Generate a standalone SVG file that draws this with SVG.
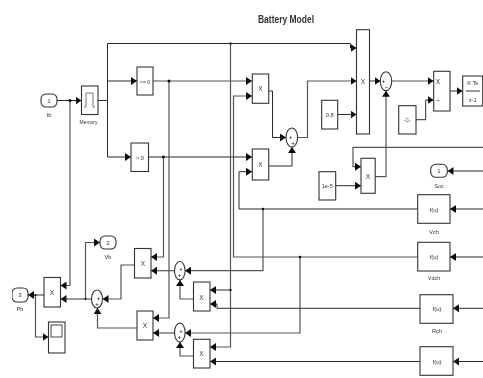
<svg xmlns="http://www.w3.org/2000/svg" width="483" height="378" viewBox="0 0 483 378">
<style>
text{font-family:"Liberation Sans",Arial,sans-serif;fill:#333;text-anchor:middle}
.l{font-size:6px}
.t{font-size:6.5px}
.s{font-size:6px;font-weight:bold}
.b{fill:#fff;stroke:#333;stroke-width:1.1}
.c path{fill:none;stroke:#2a2a2a;stroke-width:1}
.g{stroke:#555!important;stroke-width:1.2!important}
.a{marker-end:url(#ah)}
.j{fill:#111;stroke:none}
</style>
<defs>
<marker id="ah" markerUnits="userSpaceOnUse" markerWidth="6" markerHeight="8" viewBox="0 0 6 8" refX="6" refY="4" orient="auto"><path d="M0 0L6 4L0 8z" fill="#111"/></marker>
<filter id="soft" x="0" y="0" width="100%" height="100%"><feGaussianBlur stdDeviation="0.35"/></filter>
</defs>
<g filter="url(#soft)">
<text id="title" x="286" y="22.5" font-size="10" font-weight="bold" textLength="56" lengthAdjust="spacingAndGlyphs">Battery Model</text>
<g id="connectors" class="c">
<path class="a" d="M57 100.5H81.5"/>
<path class="a g" d="M70 100.5V285.5H60.5"/>
<path class="a" d="M98 100.5H107.5V81H137"/>
<path class="a" d="M107.5 81V43.5H350.5V48H356.5"/>
<path class="a" d="M107.5 100.5V157H131"/>
<path class="a g" d="M153 81H252"/>
<path class="a" d="M148.5 157H252"/>
<path class="a g" d="M169 81V318H153"/>
<path class="a g" d="M163.5 157V257H151"/>
<path class="a g" d="M230.5 43.5V347H210"/>
<path class="a" d="M230.5 290H210"/>
<path class="a" d="M268.5 91H272.5V137.5H286"/>
<path class="a" d="M268.5 166H292V147"/>
<path class="a g" d="M297.5 137.5H307.5V81H356.5"/>
<path class="a" d="M337.5 114.5H356.5"/>
<path class="a" d="M369.5 81H380.5"/>
<path class="a g" d="M391.5 81H433.5"/>
<path class="a" d="M416 119.7H425.7V100H433.5"/>
<path class="a" d="M450 91H462.5"/>
<path class="a g" d="M375 176.7H386V90.7"/>
<path class="a g" d="M483 147.3H353V166.7H361"/>
<path class="a" d="M335.7 185.7H361"/>
<path class="a" d="M483 171H447.5"/>
<path class="a" d="M483 209H450"/>
<path class="a" d="M483 257H450"/>
<path class="a" d="M483 308.3H453"/>
<path class="a" d="M483 361.5H453"/>
<path class="a" d="M417.7 209H239V171.7H252"/>
<path class="a g" d="M263 209V270.7H185"/>
<path class="a g" d="M417.7 257H233.5V96H252"/>
<path class="a g" d="M300 257V333H185"/>
<path class="a" d="M420 308.3H217V304H210"/>
<path class="a" d="M420 361.5H210"/>
<path class="a g" d="M174.5 270.7H151"/>
<path class="a g" d="M174.5 333H153"/>
<path class="a g" d="M193.5 299H180V280"/>
<path class="a g" d="M193.5 356H180V342"/>
<path class="a g" d="M134.5 265H121V299H102.5"/>
<path class="a g" d="M137 328H97.5V308"/>
<path class="a g" d="M91.5 299H60.5"/>
<path class="a g" d="M85.5 299V242.5H100"/>
<path class="a g" d="M44 295H28"/>
<path class="a g" d="M35.5 295V337H48.5"/>
<circle class="j" cx="70" cy="100.5" r="1.5"/><circle class="j" cx="230.5" cy="43.5" r="1.2"/><circle class="j" cx="169" cy="81" r="1.5"/><circle class="j" cx="163.5" cy="157" r="1.5"/><circle class="j" cx="230.5" cy="290" r="1.2"/><circle class="j" cx="263" cy="209" r="1.2"/><circle class="j" cx="300" cy="257" r="1.2"/><circle class="j" cx="35.5" cy="295" r="1"/><circle class="j" cx="85.5" cy="299" r="1"/>
</g>
<g id="inport-ib"><rect class="b" x="41" y="94" width="16" height="13" rx="5"/><text class="l" x="49" y="102.5">1</text><text class="l" x="49" y="116.5" textLength="5" lengthAdjust="spacingAndGlyphs">Ib</text></g>
<g id="memory"><rect class="b" x="81.5" y="86" width="16.5" height="28.5"/><path d="M84 107H86V93H93V107H95" fill="none" stroke="#777"/><text class="l" x="88.5" y="123.5" textLength="18" lengthAdjust="spacingAndGlyphs">Memory</text></g>
<g id="cmp-le"><rect class="b" x="137" y="67" width="16" height="28"/><text class="l" x="145" y="83.5" textLength="10" lengthAdjust="spacingAndGlyphs">&lt;= 0</text></g>
<g id="cmp-gt"><rect class="b" x="131" y="143" width="17.5" height="28.5"/><text class="l" x="140" y="159.5" textLength="8" lengthAdjust="spacingAndGlyphs">&gt; 0</text></g>
<g id="prod1"><rect class="b" x="252.3" y="74" width="16.4" height="29.3"/><text class="t" x="260.5" y="90.5">X</text></g>
<g id="prod2"><rect class="b" x="252.3" y="149" width="16.4" height="31"/><text class="t" x="260.5" y="166.5">X</text></g>
<g id="sum1"><ellipse class="b" cx="291.8" cy="137.5" rx="5.8" ry="9.5"/><text class="s" x="290.5" y="139">+</text><text class="s" x="293" y="145">+</text></g>
<g id="prod-big"><rect class="b" x="356.5" y="29.7" width="13" height="104.3"/><text class="t" x="363" y="83.5">X</text></g>
<g id="const-08"><rect class="b" x="321.7" y="100.3" width="16" height="28.7"/><text class="l" x="329.7" y="117" textLength="8" lengthAdjust="spacingAndGlyphs">0.8</text></g>
<g id="sum2"><ellipse class="b" cx="386" cy="81.2" rx="5.7" ry="9.5"/><text class="s" x="383.5" y="83">+</text><text class="s" x="386.5" y="89">–</text></g>
<g id="divide"><rect class="b" x="433.7" y="71.3" width="16.3" height="39.7"/><text class="t" x="438" y="83.5">X</text><text class="t" x="438" y="103">÷</text></g>
<g id="const-c"><rect class="b" x="398.7" y="105.7" width="17.3" height="28.3"/><text class="l" x="407.3" y="122" textLength="7" lengthAdjust="spacingAndGlyphs">-C-</text></g>
<g id="integrator"><rect class="b" x="462.7" y="76" width="20" height="30"/><text class="l" x="472.7" y="84.5" textLength="11" lengthAdjust="spacingAndGlyphs">K Ts</text><path d="M466 91H480" stroke="#333"/><text class="l" x="472.7" y="102" textLength="8" lengthAdjust="spacingAndGlyphs">z-1</text></g>
<g id="prod3"><rect class="b" x="361" y="158.3" width="14.2" height="35"/><text class="t" x="368" y="178.5">X</text></g>
<g id="const-1e5"><rect class="b" x="319" y="171.7" width="16.7" height="28.3"/><text class="l" x="327.3" y="188" textLength="11" lengthAdjust="spacingAndGlyphs">1e-5</text></g>
<g id="outport-soc"><rect class="b" x="430.7" y="164.3" width="16.6" height="13" rx="5"/><text class="l" x="439" y="173">1</text><text class="l" x="439" y="187.5" textLength="9" lengthAdjust="spacingAndGlyphs">Soc</text></g>
<g id="fcn-vch"><rect class="b" x="417.7" y="194.7" width="32.3" height="28.6"/><text class="l" x="434" y="211.5" textLength="9" lengthAdjust="spacingAndGlyphs">f(u)</text><text class="l" x="434" y="233.5" textLength="10" lengthAdjust="spacingAndGlyphs">Vch</text></g>
<g id="fcn-vdch"><rect class="b" x="417.7" y="242.3" width="32.3" height="28.7"/><text class="l" x="434" y="259" textLength="9" lengthAdjust="spacingAndGlyphs">f(u)</text><text class="l" x="434" y="280" textLength="12.5" lengthAdjust="spacingAndGlyphs">Vdch</text></g>
<g id="fcn-rch"><rect class="b" x="420" y="294.7" width="33" height="28.6"/><text class="l" x="437" y="311" textLength="9" lengthAdjust="spacingAndGlyphs">f(u)</text><text class="l" x="437" y="333" textLength="10" lengthAdjust="spacingAndGlyphs">Rch</text></g>
<g id="fcn-4"><rect class="b" x="420" y="346.7" width="33" height="28.6"/><text class="l" x="437" y="363.5" textLength="9" lengthAdjust="spacingAndGlyphs">f(u)</text></g>
<g id="sum3"><ellipse class="b" cx="179.8" cy="270.7" rx="5.3" ry="9.2"/><text class="s" x="181" y="271">+</text><text class="s" x="179.5" y="277">+</text></g>
<g id="sum4"><ellipse class="b" cx="179.8" cy="332.5" rx="5.3" ry="9.5"/><text class="s" x="181" y="333">+</text><text class="s" x="179.5" y="339">+</text></g>
<g id="prod4"><rect class="b" x="193.5" y="282" width="16.5" height="29"/><text class="t" x="201.5" y="299.5">X</text></g>
<g id="prod5"><rect class="b" x="193.5" y="339.3" width="16.5" height="28.7"/><text class="t" x="201.5" y="356">X</text></g>
<g id="prod6"><rect class="b" x="134.5" y="248.5" width="16.5" height="29.5"/><text class="t" x="143" y="266">X</text></g>
<g id="prod7"><rect class="b" x="137" y="311" width="16" height="29"/><text class="t" x="145" y="328">X</text></g>
<g id="sum5"><ellipse class="b" cx="97" cy="299" rx="5.5" ry="9"/><text class="s" x="98.5" y="300">+</text><text class="s" x="97" y="306">+</text></g>
<g id="prod8"><rect class="b" x="44" y="277.5" width="16.5" height="29.5"/><text class="t" x="52" y="294.5">X</text></g>
<g id="outport-vb"><rect class="b" x="100" y="236" width="16" height="13" rx="5"/><text class="l" x="108" y="244.5">2</text><text class="l" x="108" y="258.5" textLength="7" lengthAdjust="spacingAndGlyphs">Vb</text></g>
<g id="outport-pb"><rect class="b" x="12" y="288" width="16" height="14" rx="5"/><text class="l" x="20" y="297">3</text><text class="l" x="20" y="310.5" textLength="7" lengthAdjust="spacingAndGlyphs">Pb</text></g>
<g id="scope"><rect class="b" x="48.5" y="322" width="16.5" height="31"/><rect x="51" y="325" width="11" height="12" fill="#fff" stroke="#444"/></g>
</g>
</svg>
